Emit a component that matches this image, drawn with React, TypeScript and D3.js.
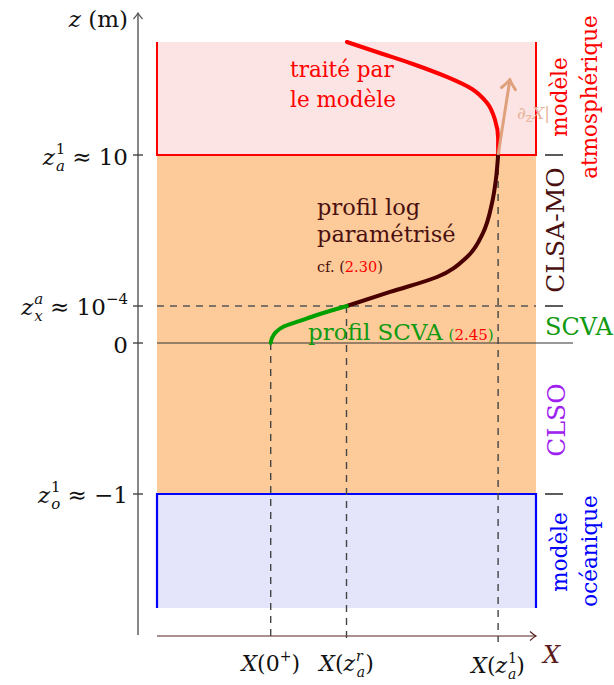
import React from "react";
import * as d3 from "d3";

// ---- data ----
const zBreaks = [-1.75, -1, 0, 1e-4, 10, 17.5]; // bottom, z_o^1, 0, z_x^a, z_a^1, top
const levelValues = [10, 1e-4, 0, -1];
const xMarks = [0.3, 0.5, 0.9]; // X(0+), X(z_a^r), X(z_a^1)

const redProfile: [number, number][] = [
  [0.501, 17.5], [0.588, 16.77], [0.675, 16.04], [0.765, 15.18],
  [0.831, 14.38], [0.871, 13.45], [0.892, 12.32], [0.9, 11.13], [0.9, 10],
];
const logProfile: [number, number][] = [
  [0.501, 1e-4], [0.615, 0.93], [0.739, 1.92], [0.818, 3.25],
  [0.86, 4.83], [0.884, 6.82], [0.894, 8.34], [0.9, 10],
];
const scvaProfile: [number, number][] = [
  [0.3, 0], [0.3034, 0.135e-4], [0.314, 0.297e-4], [0.332, 0.432e-4],
  [0.377, 0.595e-4], [0.422, 0.757e-4], [0.501, 1e-4],
];
const gradientArrow: [number, number][] = [[0.9, 10], [0.931, 15]];

const FONT = "DejaVu Serif";

export default function App() {
  const zs = d3.scaleLinear().domain(zBreaks).range([608, 494, 343, 306, 155, 42]);
  const xs = d3.scaleLinear().domain([0, 1]).range([157, 536]);
  const line = d3
    .line<[number, number]>()
    .x((d) => xs(d[0]))
    .y((d) => zs(d[1]))
    .curve(d3.curveMonotoneY);
  const straight = d3.line<[number, number]>().x((d) => xs(d[0])).y((d) => zs(d[1]));

  const [zBot, zO, z0, zX, zA, zTop] = zBreaks;
  const x0 = xs(0), x1 = xs(1);
  const axisX = 138;
  const xAxisY = 636;
  const dash = "7 6";

  return (
    <svg
      width={614}
      height={685}
      style={{ position: "absolute", left: 0, top: 0, background: "#fff" }}
      fontFamily={FONT}
    >
      <defs>
        <marker id="ah" viewBox="-8 -6 10 12" markerWidth={10} markerHeight={12} refX={0} refY={0} orient="auto" markerUnits="userSpaceOnUse">
          <path d="M-6,-4.5 Q-2,-1 0,0 Q-2,1 -6,4.5" fill="none" stroke="#555" strokeWidth={1.2} />
        </marker>
        <marker id="ahx" viewBox="-8 -6 10 12" markerWidth={10} markerHeight={12} refX={0} refY={0} orient="auto" markerUnits="userSpaceOnUse">
          <path d="M-6,-4.5 Q-2,-1 0,0 Q-2,1 -6,4.5" fill="none" stroke="#5a2020" strokeWidth={1.2} />
        </marker>
        <marker id="ahg" viewBox="-12 -9 14 18" markerWidth={14} markerHeight={18} refX={0} refY={0} orient="auto" markerUnits="userSpaceOnUse">
          <path d="M-9,-7 Q-3,-1.5 0,0 Q-3,1.5 -9,7" fill="none" stroke="#dfa07c" strokeWidth={3} strokeLinecap="round" />
        </marker>
      </defs>

      {/* layers */}
      <rect x={x0} y={zs(zTop)} width={x1 - x0} height={zs(zA) - zs(zTop)} fill="#fde4e4" />
      <rect x={x0} y={zs(zA)} width={x1 - x0} height={zs(zO) - zs(zA)} fill="#fdcb9a" />
      <rect x={x0} y={zs(zO)} width={x1 - x0} height={zs(zBot) - zs(zO)} fill="#e4e4fb" />
      <path
        d={`M${x0},${zs(zTop)} V${zs(zA)} H${x1} V${zs(zTop)}`}
        fill="none" stroke="#ff0000" strokeWidth={2}
      />
      <path
        d={`M${x0},${zs(zBot)} V${zs(zO)} H${x1} V${zs(zBot)}`}
        fill="none" stroke="#0000ff" strokeWidth={2.2}
      />

      {/* z axis */}
      <line x1={axisX} x2={axisX} y1={635} y2={13} stroke="#555" strokeWidth={1.4} markerEnd="url(#ah)" />
      {levelValues.map((v) => (
        <line key={v} x1={axisX - 5} x2={axisX + 5} y1={zs(v)} y2={zs(v)} stroke="#444" strokeWidth={1.4} />
      ))}

      {/* x axis */}
      <line x1={x0} x2={x1} y1={xAxisY} y2={xAxisY} stroke="#5a2020" strokeWidth={1.2} markerEnd="url(#ahx)" />

      {/* guide lines */}
      <line x1={x0} x2={x1} y1={zs(zX)} y2={zs(zX)} stroke="#555" strokeWidth={1.5} strokeDasharray={dash} />
      <line x1={x0} x2={573} y1={zs(z0)} y2={zs(z0)} stroke="#333" strokeWidth={1.2} />
      {xMarks.map((m, i) => {
        const top = i === 0 ? zs(z0) : i === 1 ? zs(zX) : zs(zA);
        return (
          <line key={m} x1={xs(m)} x2={xs(m)} y1={top} y2={642} stroke="#444" strokeWidth={1.4} strokeDasharray={dash} />
        );
      })}

      {/* right tick marks */}
      {[zA, zX, zO].map((v) => (
        <line key={v} x1={545} x2={563} y1={zs(v)} y2={zs(v)} stroke="#333" strokeWidth={1.6} />
      ))}

      {/* profiles */}
      <path d={line(redProfile) || ""} fill="none" stroke="#ff0000" strokeWidth={4} strokeLinecap="round" />
      <path d={line(logProfile) || ""} fill="none" stroke="#4a0000" strokeWidth={4} strokeLinecap="round" />
      <path d={line(scvaProfile) || ""} fill="none" stroke="#00a000" strokeWidth={4} strokeLinecap="round" />
      <path d={straight(gradientArrow) || ""} fill="none" stroke="#dfa07c" strokeWidth={3} markerEnd="url(#ahg)" />

      {/* in-plot labels */}
      <text x={290} y={77} fontSize={21.5} fill="#ff0000">traité par</text>
      <text x={290} y={107} fontSize={21.5} fill="#ff0000">le modèle</text>
      <text x={317} y={215} fontSize={22.5} fill="#4a1010">profil log</text>
      <text x={317} y={242} fontSize={22.5} fill="#4a1010">paramétrisé</text>
      <text x={317} y={272} fontSize={14.5} fill="#4a1010">
        cf. (<tspan fill="#ff0000">2.30</tspan>)
      </text>
      <text x={308} y={340} fontSize={23} fill="#109a10">
        profil SCVA
        <tspan fontSize={15} dx={6}>(</tspan>
        <tspan fontSize={15} fill="#ff0000">2.45</tspan>
        <tspan fontSize={15}>)</tspan>
      </text>
      <text x={517} y={119} fontSize={17} fill="#e6b49c">
        ∂<tspan fontSize={12} dy={3}>z</tspan>
        <tspan fontStyle="italic" dy={-3}>X</tspan>|
      </text>

      {/* right labels */}
      <text transform="translate(567,97) rotate(-90)" textAnchor="middle" fontSize={21.5} fill="#ff0000">modèle</text>
      <text transform="translate(597,97) rotate(-90)" textAnchor="middle" fontSize={21.5} fill="#ff0000">atmosphérique</text>
      <text transform="translate(564,230) rotate(-90)" textAnchor="middle" fontSize={25} fill="#4a1010">CLSA-MO</text>
      <text x={545} y={335} fontSize={24} fill="#109a10">SCVA</text>
      <text transform="translate(565,420) rotate(-90)" textAnchor="middle" fontSize={25} fill="#a020f0">CLSO</text>
      <text transform="translate(567,552) rotate(-90)" textAnchor="middle" fontSize={21.5} fill="#0000ff">modèle</text>
      <text transform="translate(597,551) rotate(-90)" textAnchor="middle" fontSize={21.5} fill="#0000ff">océanique</text>

      {/* z axis labels */}
      <text x={128} y={27} textAnchor="end" fontSize={23} fill="#111">
        <tspan fontStyle="italic">z</tspan>{" (m)"}
      </text>
      <text x={128} y={165} textAnchor="end" fontSize={23} fill="#111">
        <tspan fontStyle="italic">z</tspan>
        <tspan fontSize={15} dy={-11} dx={1}>1</tspan>
        <tspan fontSize={15} fontStyle="italic" dx={-9.5} dy={17}>a</tspan>
        <tspan dy={-6}>{" ≈ 10"}</tspan>
      </text>
      <text x={128} y={315} textAnchor="end" fontSize={23} fill="#111">
        <tspan fontStyle="italic">z</tspan>
        <tspan fontSize={15} fontStyle="italic" dy={-11} dx={1}>a</tspan>
        <tspan fontSize={15} fontStyle="italic" dx={-9} dy={17}>x</tspan>
        <tspan dy={-6}>{" ≈ 10"}</tspan>
        <tspan fontSize={15} dy={-11}>−4</tspan>
      </text>
      <text x={128} y={353} textAnchor="end" fontSize={23} fill="#111">0</text>
      <text x={128} y={503} textAnchor="end" fontSize={23} fill="#111">
        <tspan fontStyle="italic">z</tspan>
        <tspan fontSize={15} dy={-11} dx={1}>1</tspan>
        <tspan fontSize={15} fontStyle="italic" dx={-9.5} dy={17}>o</tspan>
        <tspan dy={-6}>{" ≈ −1"}</tspan>
      </text>

      {/* x axis labels */}
      <text x={xs(xMarks[0])} y={671} textAnchor="middle" fontSize={22} fill="#111">
        <tspan fontStyle="italic">X</tspan>(0<tspan fontSize={14} dy={-10}>+</tspan>
        <tspan dy={10}>)</tspan>
      </text>
      <text x={xs(xMarks[1])} y={671} textAnchor="middle" fontSize={22} fill="#111">
        <tspan fontStyle="italic">X</tspan>(<tspan fontStyle="italic">z</tspan>
        <tspan fontSize={14} fontStyle="italic" dy={-10} dx={1}>r</tspan>
        <tspan fontSize={14} fontStyle="italic" dx={-6} dy={16}>a</tspan>
        <tspan dy={-6}>)</tspan>
      </text>
      <text x={xs(xMarks[2])} y={673} textAnchor="middle" fontSize={22} fill="#111">
        <tspan fontStyle="italic">X</tspan>(<tspan fontStyle="italic">z</tspan>
        <tspan fontSize={14} dy={-10} dx={1}>1</tspan>
        <tspan fontSize={14} fontStyle="italic" dx={-9} dy={16}>a</tspan>
        <tspan dy={-6}>)</tspan>
      </text>
      <text x={543} y={663} fontSize={24} fontStyle="italic" fill="#5a1a1a">X</text>
    </svg>
  );
}
